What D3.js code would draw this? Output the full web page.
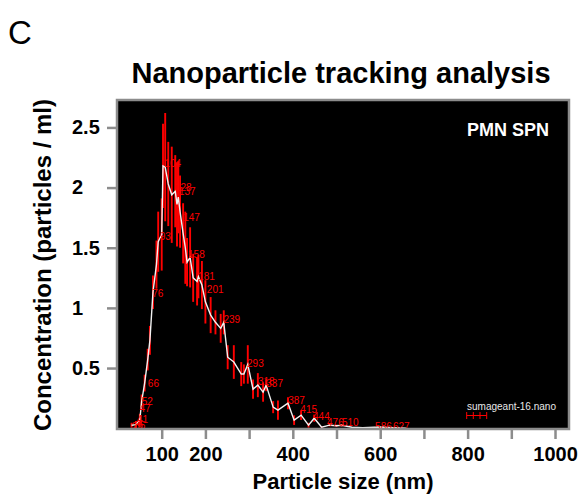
<!DOCTYPE html>
<html>
<head>
<meta charset="utf-8">
<script src="https://cdn.jsdelivr.net/npm/d3@7"></script>
<style>
  body { margin: 0; background: #fff; }
  svg text { font-family: "Liberation Sans", Arial, sans-serif; }
</style>
</head>
<body>
<svg id="chart" width="582" height="498"></svg>
<script>
// particle size bins (nm), mean concentration and error (sd)
const sizes = [31, 41, 50, 54, 61, 68, 73, 80, 88, 92,
  100, 103, 108, 115, 123, 131, 135, 138, 142, 149,
  154, 158, 165, 172, 181, 184, 192, 200, 212, 223,
  235, 242, 251, 265, 282, 288, 297, 309, 320, 332,
  339, 355, 366, 389, 403, 419, 436, 449, 466, 484,
  500, 512, 535, 560, 600, 630, 660];
const means = [0.025, 0.03, 0.07, 0.22, 0.375, 0.57, 0.73, 1.13, 1.36, 1.55,
  1.61, 2.18, 2.17, 2.03, 1.94, 1.97, 1.86, 1.92, 1.80, 1.62,
  1.50, 1.38, 1.42, 1.25, 1.22, 1.26, 1.19, 1.05, 0.94, 0.88,
  0.83, 0.88, 0.59, 0.55, 0.45, 0.45, 0.53, 0.325, 0.358, 0.30,
  0.358, 0.175, 0.15, 0.208, 0.067, 0.108, 0.025, 0.083, 0.008, 0.025,
  0.02, 0.025, 0.008, 0.005, 0.01, 0.005, 0];
const errors = [0.02, 0.03, 0.05, 0.06, 0.07, 0.09, 0.12, 0.14, 0.2, 0.25,
  0.3, 0.35, 0.45, 0.35, 0.4, 0.3, 0.35, 0.3, 0.3, 0.25,
  0.3, 0.2, 0.25, 0.2, 0.2, 0.18, 0.2, 0.18, 0.15, 0.1,
  0.12, 0.1, 0.1, 0.14, 0.1, 0.08, 0.16, 0.08, 0.1, 0.08,
  0.05, 0.05, 0.08, 0.05, 0.04, 0.04, 0.02, 0.03, 0.01, 0.01,
  0.01, 0.01, 0, 0, 0, 0, 0];

// peak labels
const peakSizes = [29, 35, 41, 47, 52, 66, 76, 93, 104, 128, 137, 147, 158,
  181, 201, 239, 293, 318, 337, 387, 415, 444, 476, 510, 586, 627];
const peakConc = [0.01, 0.02, 0.07, 0.16, 0.22, 0.375, 1.12, 1.59, 2.2, 2.0, 1.97, 1.75, 1.44,
  1.26, 1.15, 0.9, 0.54, 0.386, 0.375, 0.233, 0.158, 0.1, 0.05, 0.05, 0.017, 0.017];

const xTicks = [100, 200, 300, 400, 500, 600, 700, 800, 900, 1000];
const xLabels = [100, 200, 400, 600, 800, 1000];
const yTicks = [0.5, 1, 1.5, 2, 2.5];

const data = sizes.map((s, i) => ({ size: s, mean: means[i], err: errors[i] }));

const svg = d3.select('#chart');
const plotL = 117, plotT = 100, plotR = 569, plotB = 429;

const x = d3.scaleLinear().domain([0, 1032]).range([118, 569]);
const y = d3.scaleLinear().domain([0, 2.728]).range([428.2, 100]);

// letter
svg.append('text').attr('x', 8).attr('y', 44)
  .style('font-size', '33px').text('C');

// title
svg.append('text').attr('x', 341).attr('y', 83)
  .attr('text-anchor', 'middle')
  .style('font-size', '29px').style('font-weight', 'bold')
  .text('Nanoparticle tracking analysis');

// plot background
svg.append('rect')
  .attr('x', plotL).attr('y', plotT)
  .attr('width', plotR - plotL).attr('height', plotB - plotT)
  .attr('fill', '#000');

svg.append('clipPath').attr('id', 'clip')
  .append('rect')
  .attr('x', plotL).attr('y', plotT)
  .attr('width', plotR - plotL).attr('height', plotB - plotT);

const plot = svg.append('g').attr('clip-path', 'url(#clip)');

// error bars
plot.selectAll('.err').data(data)
  .enter().append('line')
    .attr('class', 'err')
    .attr('x1', d => x(d.size)).attr('x2', d => x(d.size))
    .attr('y1', d => y(d.mean - d.err)).attr('y2', d => y(d.mean + d.err))
    .attr('stroke', '#ff0000').attr('stroke-width', 1.9);

// mean line
const line = d3.line().x(d => x(d.size)).y(d => y(d.mean));
plot.append('path')
  .datum(data)
  .attr('d', line)
  .attr('fill', 'none')
  .attr('stroke', '#f2f2f2')
  .attr('stroke-width', 1.4);

// peak labels
plot.selectAll('.peak').data(peakSizes)
  .enter().append('text')
    .attr('class', 'peak')
    .attr('x', d => x(d) + 1)
    .attr('y', (d, i) => y(peakConc[i]))
    .attr('dy', '0.35em')
    .attr('fill', '#ff0000')
    .style('font-size', '10px')
    .text(d => d);

// sample name and error-bar legend
svg.append('text').attr('x', 467).attr('y', 410)
  .attr('fill', '#e8e8e8').style('font-size', '10px')
  .text('sumageant-16.nano');
const legendX = [466.7, 473.3, 480, 486.7];
svg.append('line').attr('x1', legendX[0]).attr('x2', legendX[3])
  .attr('y1', 415.5).attr('y2', 415.5).attr('stroke', '#ff0000').attr('stroke-width', 1);
svg.selectAll('.legtick').data(legendX)
  .enter().append('line')
    .attr('class', 'legtick')
    .attr('x1', d => d).attr('x2', d => d)
    .attr('y1', 412).attr('y2', 419)
    .attr('stroke', '#ff0000').attr('stroke-width', 1);

svg.append('text').attr('x', 467).attr('y', 136)
  .attr('fill', '#fff').style('font-size', '18px').style('font-weight', 'bold')
  .text('PMN SPN');

// frame
svg.append('rect')
  .attr('x', plotL).attr('y', plotT)
  .attr('width', plotR - plotL).attr('height', plotB - plotT)
  .attr('fill', 'none').attr('stroke', '#8c8c8c').attr('stroke-width', 2.5);

// x axis
const xAxis = svg.append('g')
  .attr('transform', `translate(0,${plotB})`)
  .call(d3.axisBottom(x).tickValues(xTicks).tickSize(10).tickPadding(8)
    .tickFormat(d => xLabels.includes(d) ? d : ''));
xAxis.select('.domain').remove();
xAxis.selectAll('line').attr('stroke', '#8c8c8c').attr('stroke-width', 2.5);
xAxis.selectAll('text')
  .attr('fill', '#000')
  .style('font-size', '20px').style('font-weight', 'bold')
  .style('font-family', '"Liberation Sans", Arial, sans-serif');

// y axis
const yAxis = svg.append('g')
  .attr('transform', `translate(${plotL},0)`)
  .call(d3.axisLeft(y).tickValues(yTicks).tickSize(10).tickFormat(d => d));
yAxis.select('.domain').remove();
yAxis.selectAll('line').attr('stroke', '#8c8c8c').attr('stroke-width', 2.5);
yAxis.selectAll('text')
  .attr('x', 72 - plotL)
  .attr('text-anchor', 'start')
  .attr('fill', '#000')
  .style('font-size', '20px').style('font-weight', 'bold')
  .style('font-family', '"Liberation Sans", Arial, sans-serif');

// axis titles
svg.append('text').attr('x', 343).attr('y', 489)
  .attr('text-anchor', 'middle')
  .style('font-size', '22px').style('font-weight', 'bold')
  .text('Particle size (nm)');

svg.append('text')
  .attr('transform', 'translate(51,265) rotate(-90)')
  .attr('text-anchor', 'middle')
  .style('font-size', '24px').style('font-weight', 'bold')
  .text('Concentration (particles / ml)');
</script>
</body>
</html>
